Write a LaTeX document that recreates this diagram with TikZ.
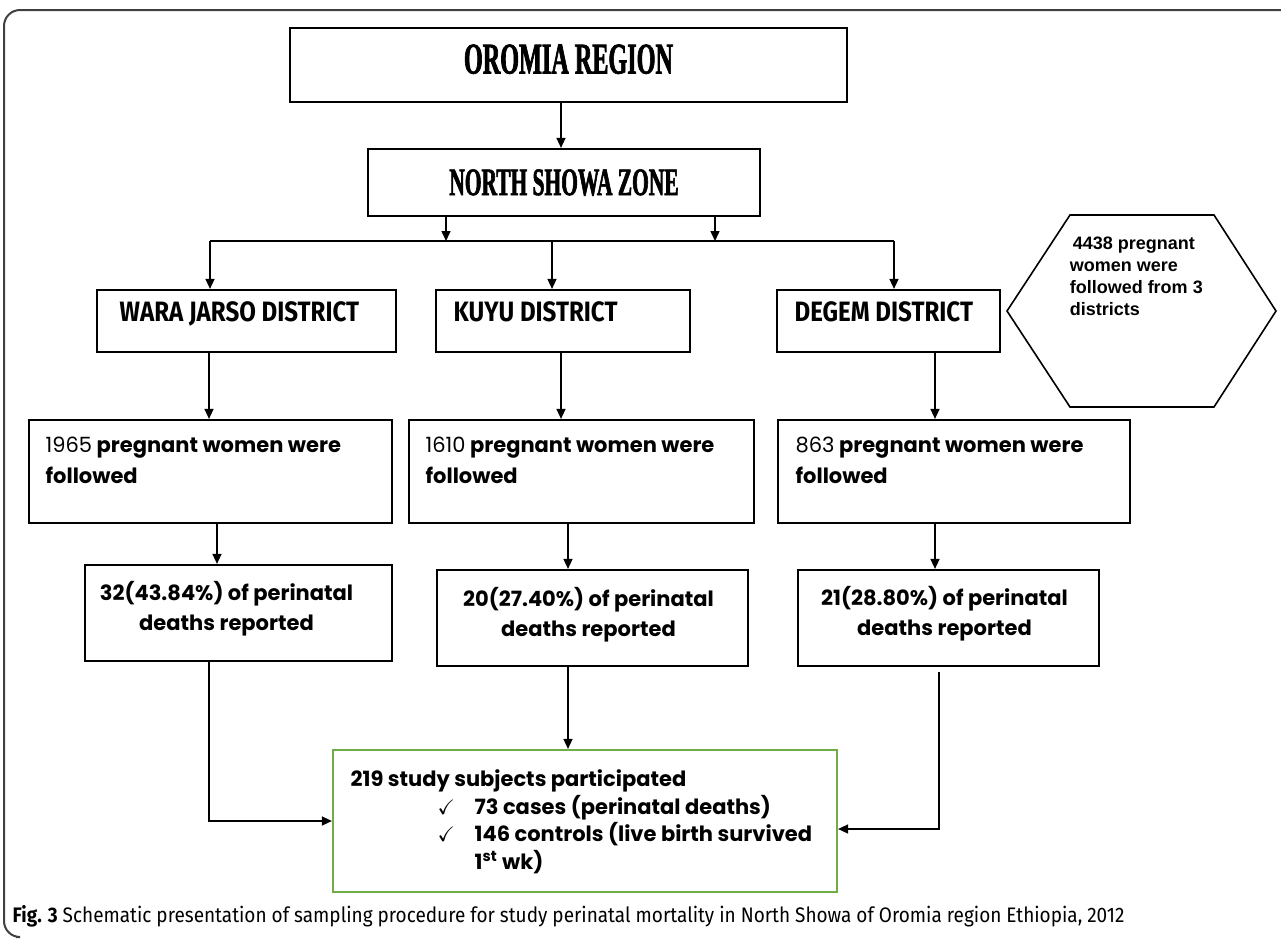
\documentclass[tikz,border=0pt]{standalone}
\usepackage{amssymb}
\usepackage{fontspec}
\setmainfont{Liberation Sans}
\newfontfamily\headfont[FakeStretch=0.55,BoldFeatures={FakeBold=1.5}]{Liberation Serif}
\newfontfamily\distfont[FakeStretch=0.86]{Fira Sans}
\newfontfamily\roundfont{Poppins}
\newfontfamily\capfont[FakeStretch=0.904]{Fira Sans}
\usetikzlibrary{arrows.meta,positioning}
\definecolor{studygreen}{RGB}{112,173,71}

\tikzset{
  box/.style={draw,line width=1.1pt,inner sep=0pt},
  head/.style={font=\headfont\bfseries\fontsize{22}{22}\selectfont},
  dist/.style={inner sep=0pt,font=\distfont\bfseries\fontsize{14}{16}\selectfont},
  follow/.style={inner sep=0pt,align=left,font=\roundfont\bfseries\fontsize{10.5}{15.5}\selectfont},
  deaths/.style={inner sep=0pt,align=center,font=\roundfont\bfseries\fontsize{10.5}{15}\selectfont},
  studybox/.style={draw=studygreen,line width=1.1pt,inner sep=0pt},
  hextext/.style={inner sep=0pt,align=left,font=\bfseries\fontsize{9}{11}\selectfont},
  frame/.style={draw=black!75,line width=1pt,rounded corners=8pt}
}

\begin{document}
\begin{tikzpicture}[x=0.5pt,y=-0.5pt,->,>={Triangle[length=5pt,width=4.5pt]},line width=0.75pt]
  \useasboundingbox (0,0) rectangle (1281,938);
  \draw[-,frame] (1281,10) -- (4,10) -- (4,937) -- (16,937);

  % top levels
  \node[box,minimum width=278.5pt,minimum height=37pt,head,text depth=6pt] (oromia) at (568.5,65) {OROMIA REGION};
  \node[box,minimum width=196pt,minimum height=33.5pt,font=\headfont\bfseries\fontsize{19.5}{19.5}\selectfont] (nszone) at (564,182.5) {NORTH SHOWA ZONE};
  \draw[->] ([xshift=-1.5pt]nszone.north |- oromia.south) -- ([xshift=-1.5pt]nszone.north);

  % districts
  \node[box,minimum width=149.5pt,minimum height=31pt] (wara) at (246.5,321) {};
  \node[box,minimum width=127pt,minimum height=31pt] (kuyu) at (563,321) {};
  \node[box,minimum width=111.5pt,minimum height=31pt] (degem) at (888.5,321) {};
  \node[dist,below right=6pt and 11.5pt of wara.north west] (waratxt) {WARA JARSO DISTRICT};
  \node[dist,below right=6pt and 9pt of kuyu.north west] (kuyutxt) {KUYU DISTRICT};
  \node[dist,below right=6pt and 9pt of degem.north west] (degemtxt) {DEGEM DISTRICT};

  \coordinate (busL) at (210,241);
  \coordinate (busM) at (552,241);
  \coordinate (busR) at (894,241);
  \draw[-] (busL) -- (busR);
  \draw[->] ([xshift=-59pt]nszone.south) -- ([xshift=-59pt]nszone.south |- busL);
  \draw[->] ([xshift=75.5pt]nszone.south) -- ([xshift=75.5pt]nszone.south |- busL);
  \draw[->] (busL) -- (busL |- wara.north);
  \draw[->] (busM) -- (busM |- kuyu.north);
  \draw[->] (busR) -- (busR |- degem.north);

  % hexagon
  \draw[-,line width=0.8pt] (1007,311) -- (1070,215) -- (1214,215) -- (1276,311) -- (1214,407) -- (1070,407) -- cycle;
  \node[hextext,anchor=north west] (hex) at (1069,236) {\,4438 pregnant\\women were\\followed from 3\\districts};

  % followed women
  \node[box,minimum width=181.5pt,minimum height=51.5pt] (f1965) at (210.5,471.5) {};
  \node[box,minimum width=172.5pt,minimum height=51.5pt] (f1610) at (581.5,471.5) {};
  \node[box,minimum width=176pt,minimum height=51.5pt] (f863) at (954,471.5) {};
  \node[follow,below right=8.5pt and 8.5pt of f1965.north west] (f1965txt) {{\mdseries 1965} pregnant women were\\followed};
  \node[follow,below right=8.5pt and 8.5pt of f1610.north west] (f1610txt) {{\mdseries 1610} pregnant women were\\followed};
  \node[follow,below right=8.5pt and 9pt of f863.north west] (f863txt) {{\mdseries 863} pregnant women were\\followed};
  \draw[->] ([xshift=-18.75pt]wara.south) -- ([xshift=-18.75pt]wara.south |- f1965.north);
  \draw[->] ([xshift=-1pt]kuyu.south) -- ([xshift=-1pt]kuyu.south |- f1610.north);
  \draw[->] ([xshift=23.25pt]degem.south) -- ([xshift=23.25pt]degem.south |- f863.north);

  % perinatal deaths
  \node[box,minimum width=153.5pt,minimum height=48pt] (d32) at (238.5,613) {};
  \node[box,minimum width=155.5pt,minimum height=48pt] (d20) at (592.5,618) {};
  \node[box,minimum width=150.5pt,minimum height=48pt] (d21) at (948.5,618) {};
  \node[deaths,below=8.5pt of d32.north,xshift=-6pt] (d32txt) {32(43.84\%) of perinatal\\deaths reported};
  \node[deaths,below=9pt of d20.north,xshift=-2pt] (d20txt) {20(27.40\%) of perinatal\\deaths reported};
  \node[deaths,below=8.5pt of d21.north,xshift=-2pt] (d21txt) {21(28.80\%) of perinatal\\deaths reported};
  \draw[->] ([xshift=3.25pt]f1965.south) -- ([xshift=3.25pt]f1965.south |- d32.north);
  \draw[->] ([xshift=-6.75pt]f1610.south) -- ([xshift=-6.75pt]f1610.south |- d20.north);
  \draw[->] ([xshift=-9.5pt]f863.south) -- ([xshift=-9.5pt]f863.south |- d21.north);

  % study subjects
  \node[studybox,minimum width=252pt,minimum height=71pt] (study) at (585,821) {};
  \node[follow,below right=10pt and 9pt of study.north west,font=\roundfont\bfseries\fontsize{10.5}{13.8}\selectfont] (studytxt)
    {219 study subjects participated\\
     \hspace*{43.5pt}\makebox[18.5pt][l]{$\checkmark$}73 cases (perinatal deaths)\\
     \hspace*{43.5pt}\makebox[18.5pt][l]{$\checkmark$}146 controls (live birth survived\\
     \hspace*{62pt}1\textsuperscript{st} wk)};
  \draw[->] ([xshift=-14.75pt]d32.south) |- (study.west);
  \draw[->] ([xshift=-12.25pt]d20.south) -- ([xshift=-12.25pt]d20.south |- study.north);
  \draw[->] ([xshift=-4.75pt,yshift=-2.5pt]d21.south) |- ([yshift=-4pt]study.east);

  % caption
  \node[anchor=base west,inner sep=0pt,font=\capfont\fontsize{10.5}{12}\selectfont] (caption) at (12,922)
    {\textbf{Fig. 3} Schematic presentation of sampling procedure for study perinatal mortality in North Showa of Oromia region Ethiopia, 2012};
\end{tikzpicture}
\end{document}
